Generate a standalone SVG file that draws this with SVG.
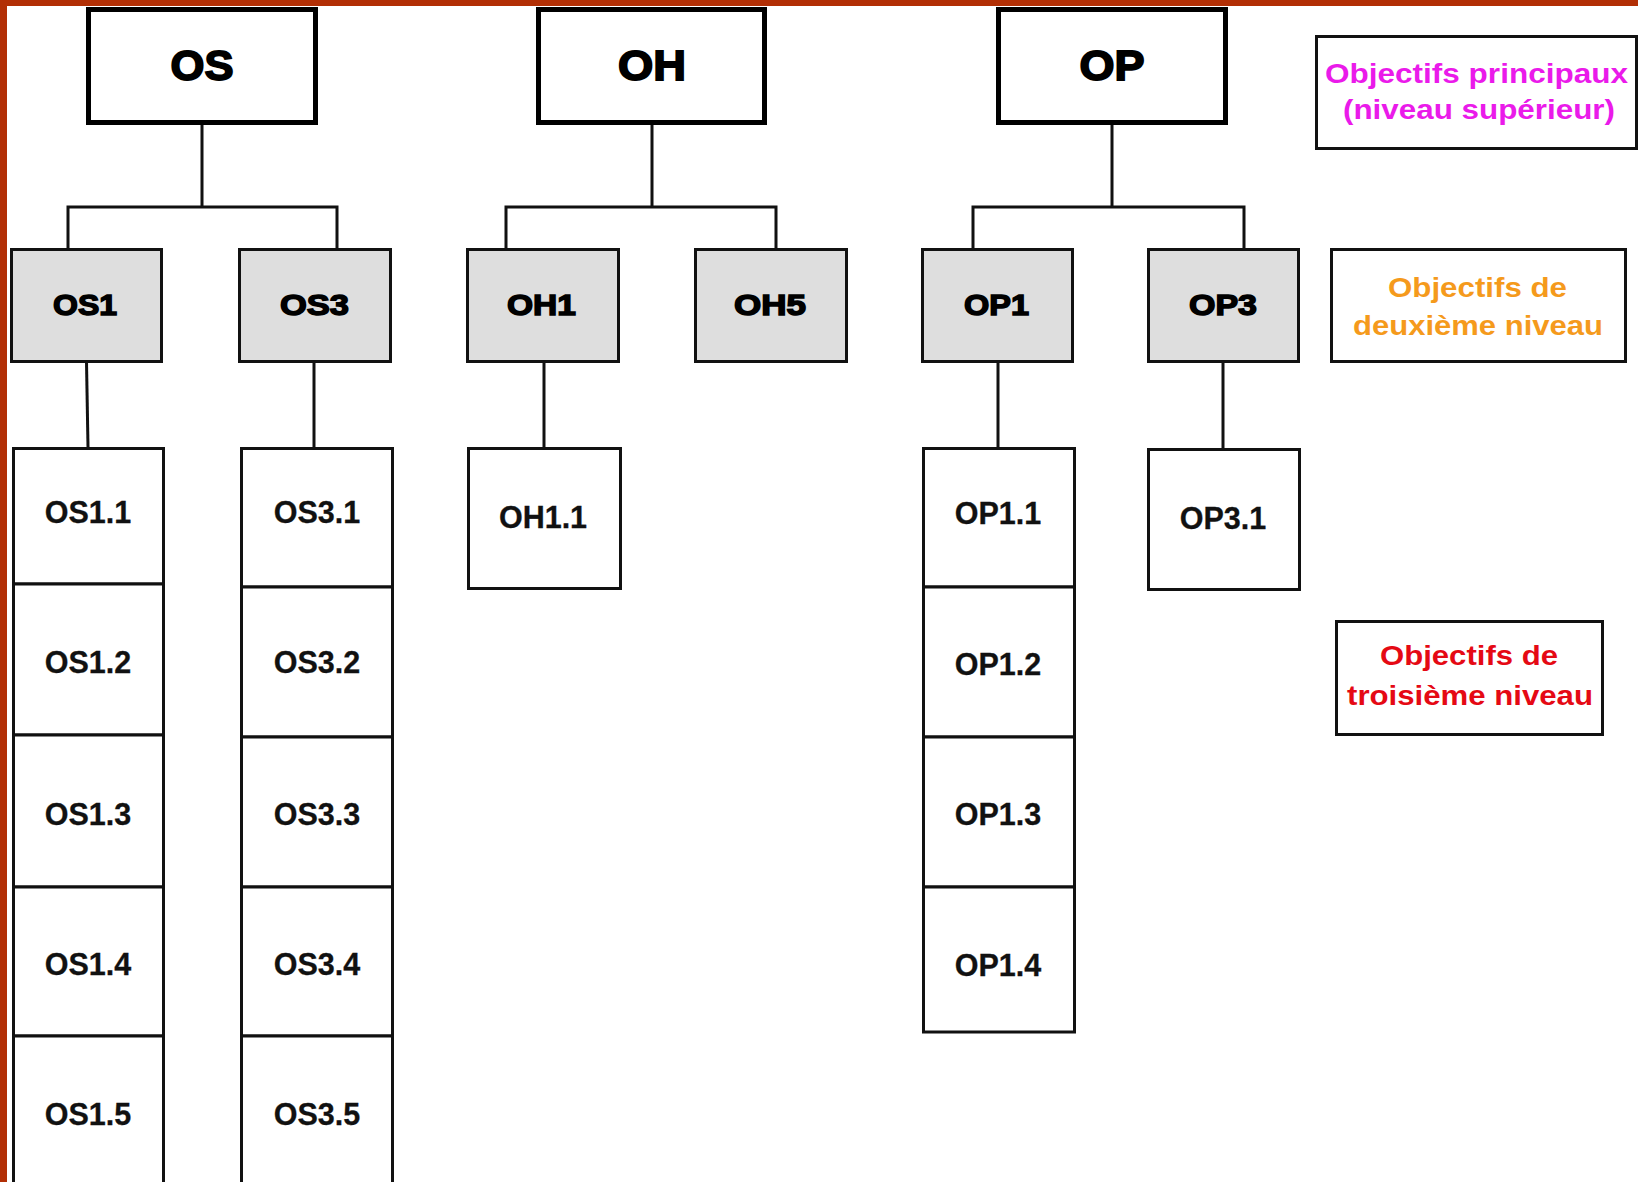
<svg xmlns="http://www.w3.org/2000/svg" width="1638" height="1182" viewBox="0 0 1638 1182">
<style>
.l1{fill:#fff;stroke:#000;stroke-width:5}
.l2{fill:#dedede;stroke:#111;stroke-width:3}
.l3{fill:#fff;stroke:#111;stroke-width:3}
.lg{fill:#fff;stroke:#111;stroke-width:3}
.t1{font-family:"Liberation Sans",Arial,sans-serif;font-weight:bold;font-size:42px;fill:#000;stroke:#000;stroke-width:1.8;text-anchor:middle}
.t2{font-family:"Liberation Sans",Arial,sans-serif;font-weight:bold;font-size:30px;fill:#000;stroke:#000;stroke-width:1.5;text-anchor:middle}
.t3{font-family:"Liberation Sans",Arial,sans-serif;font-weight:bold;font-size:30.5px;fill:#111;stroke:#111;stroke-width:0.3;text-anchor:middle}
.tl{font-family:"Liberation Sans",Arial,sans-serif;font-weight:bold;font-size:28px;text-anchor:middle}
.conn{fill:none;stroke:#111;stroke-width:3}
</style>
<rect x="0" y="0" width="1638" height="1182" fill="#fff"/>
<rect x="0" y="0" width="1638" height="6" fill="#b22f05"/>
<rect x="0" y="0" width="7" height="1182" fill="#b22f05"/>

<g id="connectors" class="conn">
<path d="M202 122 V207 M68 249 V207 H337 V249"/>
<path d="M652 122 V207 M506 249 V207 H776 V249"/>
<path d="M1112 122 V207 M973 249 V207 H1244 V249"/>
<path d="M86.5 362 L88 447"/>
<path d="M314 362 V447"/>
<path d="M544 362 V448"/>
<path d="M998 362 V447"/>
<path d="M1223 362 V449"/>
</g>

<g id="OS"><rect class="l1" x="88.5" y="9.5" width="227" height="113"/><text class="t1" x="202" y="80" textLength="63" lengthAdjust="spacingAndGlyphs">OS</text></g>
<g id="OH"><rect class="l1" x="538.5" y="9.5" width="226" height="113"/><text class="t1" x="652" y="80" textLength="68" lengthAdjust="spacingAndGlyphs">OH</text></g>
<g id="OP"><rect class="l1" x="998.5" y="9.5" width="227" height="113"/><text class="t1" x="1112" y="80" textLength="65" lengthAdjust="spacingAndGlyphs">OP</text></g>

<g id="OS1"><rect class="l2" x="11.5" y="249.5" width="150" height="112"/><text class="t2" x="85" y="315" textLength="64" lengthAdjust="spacingAndGlyphs">OS1</text></g>
<g id="OS3"><rect class="l2" x="239.5" y="249.5" width="151" height="112"/><text class="t2" x="314.5" y="315" textLength="69" lengthAdjust="spacingAndGlyphs">OS3</text></g>
<g id="OH1"><rect class="l2" x="467.5" y="249.5" width="151" height="112"/><text class="t2" x="541.5" y="315" textLength="69" lengthAdjust="spacingAndGlyphs">OH1</text></g>
<g id="OH5"><rect class="l2" x="695.5" y="249.5" width="151" height="112"/><text class="t2" x="770" y="315" textLength="72" lengthAdjust="spacingAndGlyphs">OH5</text></g>
<g id="OP1"><rect class="l2" x="922.5" y="249.5" width="150" height="112"/><text class="t2" x="996.5" y="315" textLength="65" lengthAdjust="spacingAndGlyphs">OP1</text></g>
<g id="OP3"><rect class="l2" x="1148.5" y="249.5" width="150" height="112"/><text class="t2" x="1223" y="315" textLength="68" lengthAdjust="spacingAndGlyphs">OP3</text></g>

<g id="OS1.1"><rect class="l3" x="13.5" y="448.5" width="150" height="135.5"/><text class="t3" x="88" y="523">OS1.1</text></g>
<g id="OS1.2"><rect class="l3" x="13.5" y="584" width="150" height="151"/><text class="t3" x="88" y="673">OS1.2</text></g>
<g id="OS1.3"><rect class="l3" x="13.5" y="735" width="150" height="152"/><text class="t3" x="88" y="825">OS1.3</text></g>
<g id="OS1.4"><rect class="l3" x="13.5" y="887" width="150" height="149"/><text class="t3" x="88" y="975">OS1.4</text></g>
<g id="OS1.5"><rect class="l3" x="13.5" y="1036" width="150" height="160"/><text class="t3" x="88" y="1125">OS1.5</text></g>

<g id="OS3.1"><rect class="l3" x="241.5" y="448.5" width="151" height="138.5"/><text class="t3" x="317" y="523">OS3.1</text></g>
<g id="OS3.2"><rect class="l3" x="241.5" y="587" width="151" height="150"/><text class="t3" x="317" y="673">OS3.2</text></g>
<g id="OS3.3"><rect class="l3" x="241.5" y="737" width="151" height="150"/><text class="t3" x="317" y="825">OS3.3</text></g>
<g id="OS3.4"><rect class="l3" x="241.5" y="887" width="151" height="149"/><text class="t3" x="317" y="975">OS3.4</text></g>
<g id="OS3.5"><rect class="l3" x="241.5" y="1036" width="151" height="160"/><text class="t3" x="317" y="1125">OS3.5</text></g>

<g id="OH1.1"><rect class="l3" x="468.5" y="448.5" width="152" height="140"/><text class="t3" x="543" y="528">OH1.1</text></g>

<g id="OP1.1"><rect class="l3" x="923.5" y="448.5" width="151" height="138.5"/><text class="t3" x="998" y="524">OP1.1</text></g>
<g id="OP1.2"><rect class="l3" x="923.5" y="587" width="151" height="150"/><text class="t3" x="998" y="675">OP1.2</text></g>
<g id="OP1.3"><rect class="l3" x="923.5" y="737" width="151" height="150"/><text class="t3" x="998" y="825">OP1.3</text></g>
<g id="OP1.4"><rect class="l3" x="923.5" y="887" width="151" height="145"/><text class="t3" x="998" y="976">OP1.4</text></g>

<g id="OP3.1"><rect class="l3" x="1148.5" y="449.5" width="151" height="140"/><text class="t3" x="1223" y="529">OP3.1</text></g>

<g id="legend-principaux"><rect class="lg" x="1316.5" y="36.5" width="320" height="112"/>
<text class="tl" fill="#ea1aea" x="1476.5" y="83" textLength="303" lengthAdjust="spacingAndGlyphs">Objectifs principaux</text>
<text class="tl" fill="#ea1aea" x="1479" y="119" textLength="272" lengthAdjust="spacingAndGlyphs">(niveau supérieur)</text></g>
<g id="legend-deuxieme"><rect class="lg" x="1331.5" y="249.5" width="294" height="112"/>
<text class="tl" fill="#f59a1c" x="1477.5" y="297" textLength="179" lengthAdjust="spacingAndGlyphs">Objectifs de</text>
<text class="tl" fill="#f59a1c" x="1478" y="335" textLength="250" lengthAdjust="spacingAndGlyphs">deuxième niveau</text></g>
<g id="legend-troisieme"><rect class="lg" x="1336.5" y="621.5" width="266" height="113"/>
<text class="tl" fill="#e50914" x="1469" y="665" textLength="178" lengthAdjust="spacingAndGlyphs">Objectifs de</text>
<text class="tl" fill="#e50914" x="1470" y="705" textLength="246" lengthAdjust="spacingAndGlyphs">troisième niveau</text></g>
</svg>
